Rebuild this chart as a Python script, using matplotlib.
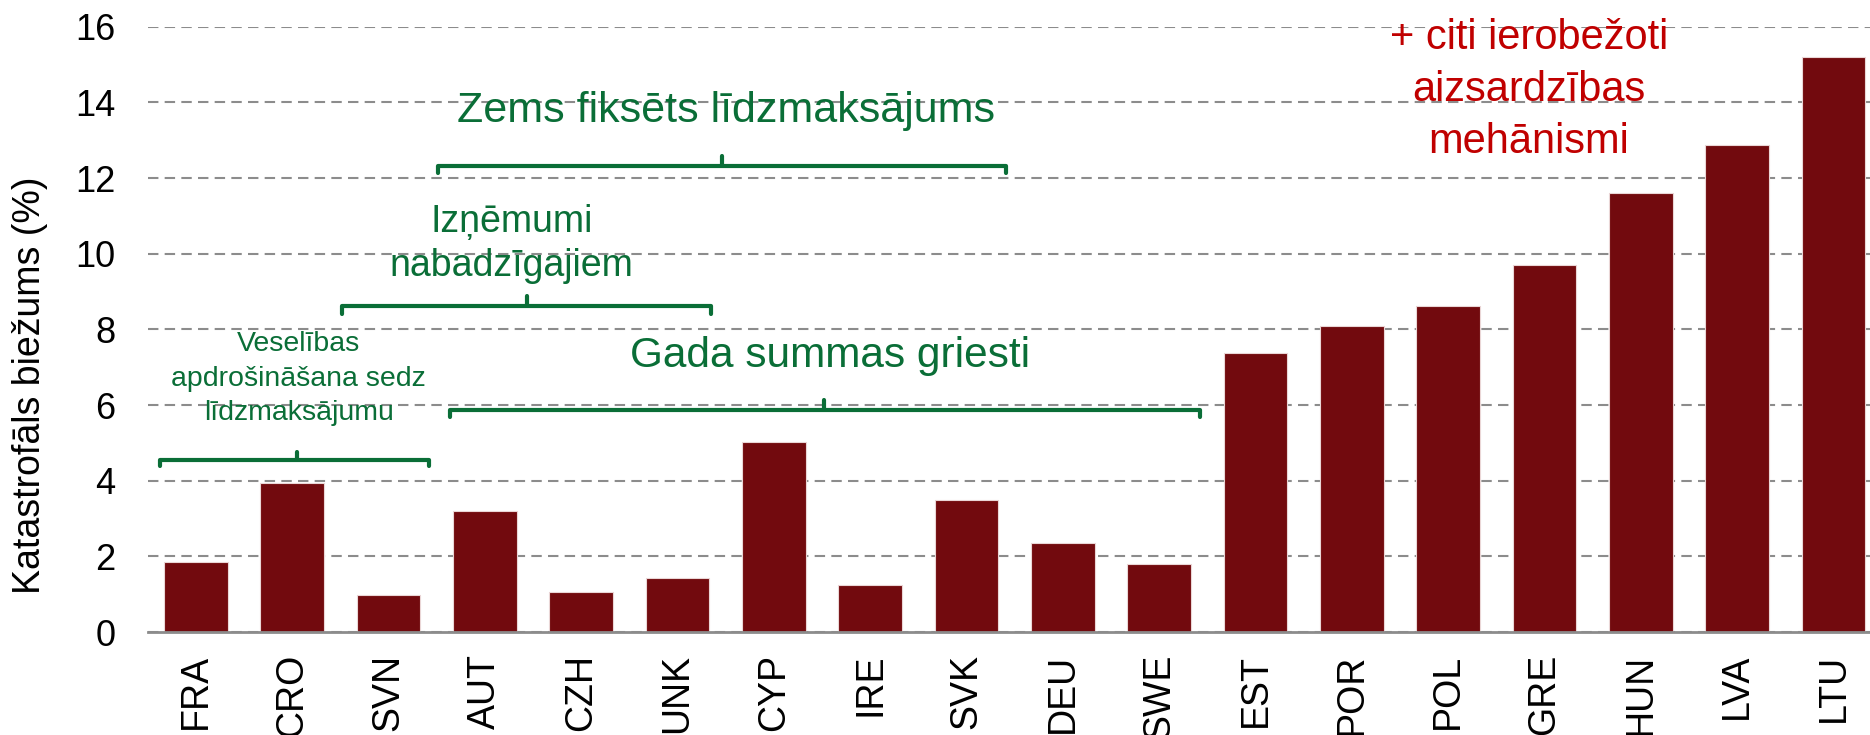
import matplotlib.pyplot as plt

plt.rcParams['font.family'] = ['Liberation Sans', 'DejaVu Sans']

# valstis un katastrofālo izdevumu biežums (%)
countries = ["FRA", "CRO", "SVN", "AUT", "CZH", "UNK", "CYP", "IRE", "SVK",
             "DEU", "SWE", "EST", "POR", "POL", "GRE", "HUN", "LVA", "LTU"]
values = [1.86, 3.94, 0.98, 3.21, 1.07, 1.42, 5.01, 1.23, 3.50,
          2.36, 1.80, 7.37, 8.09, 8.62, 9.70, 11.61, 12.88, 15.21]
y_ticks = [0, 2, 4, 6, 8, 10, 12, 14, 16]

# grupu iekavas: (sākums, beigas, vidus, līnijas y, āķa y, smaile y)
brackets = [
    (-0.37, 2.42, 1.05, 4.54, 4.39, 4.76),
    (2.64, 10.42, 6.52, 5.86, 5.68, 6.13),
    (1.52, 5.35, 3.44, 8.63, 8.40, 8.87),
    (2.51, 8.41, 5.46, 12.33, 12.13, 12.59),
]
# teksti: (teksts, x, y, izmērs, krāsa, rindstarpa)
notes = [
    ("Veselības\napdrošināšana sedz\nlīdzmaksājumu", 1.07, 6.70, 20.5, "#0A6E37", 1.42),
    ("Gada summas griesti", 6.58, 7.30, 30.5, "#0A6E37", 1.2),
    ("Izņēmumi\nnabadzīgajiem", 3.28, 10.25, 27, "#0A6E37", 1.3),
    ("Zems fiksēts līdzmaksājums", 5.50, 13.76, 31, "#0A6E37", 1.2),
    ("+ citi ierobežoti\naizsardzības\nmehānismi", 13.84, 14.32, 30, "#C00000", 1.38),
]

fig = plt.figure(figsize=(18.7, 7.35), dpi=100)
ax = fig.add_axes([0.0789, 0.1401, 1 - 0.0789, 0.9637 - 0.1401])

x = range(len(countries))
ax.bar(x, values, width=0.66, color="#720A0E", edgecolor="#EAD6D6",
       linewidth=0.8, zorder=2)

ax.set_xlim(-0.5, 17.38)
ax.set_ylim(0, 16)
ax.set_yticks(y_ticks)
ax.set_xticks(list(x))
ax.set_xticklabels(countries, rotation=90, fontsize=27)
ax.tick_params(axis="y", length=0, pad=23, labelsize=26)
ax.tick_params(axis="x", length=0, pad=15.5)
ax.yaxis.grid(True, color="#8C8C8C", linestyle=(0, (5, 3)), linewidth=1.5, zorder=0)
ax.set_axisbelow(True)

for s in ["top", "right", "left"]:
    ax.spines[s].set_visible(False)
ax.spines["bottom"].set_color("#8C8C8C")
ax.spines["bottom"].set_linewidth(2)
ax.spines["bottom"].set_zorder(3)

for x0, x1, xc, yl, yh, yt in brackets:
    ax.plot([x0, x0, x1, x1], [yh, yl, yl, yh], color="#0A6E37", lw=3,
            solid_joinstyle="round", solid_capstyle="round", zorder=4, clip_on=False)
    ax.plot([xc, xc], [yl, yt], color="#0A6E37", lw=3,
            solid_capstyle="round", zorder=4, clip_on=False)

for txt, tx, ty, fs, col, ls in notes:
    ax.text(tx, ty, txt, ha="center", va="center", fontsize=fs, color=col,
            linespacing=ls, zorder=5)

fig.text(30 / 1870, 1 - 385.5 / 735, "Katastrofāls biežums (%)", rotation=90,
         ha="center", va="center", fontsize=27)

plt.savefig("out.png", dpi=100)
